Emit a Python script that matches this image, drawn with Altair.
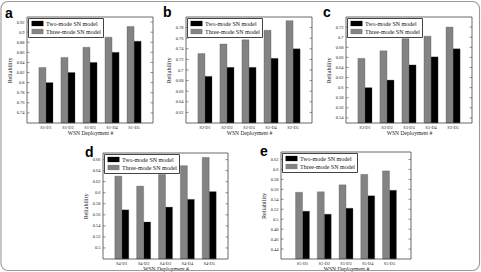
import altair as alt
import pandas as pd

TWO = "Two-mode SN model"
THREE = "Three-mode SN model"

cats_a = ["S1-D1", "S1-D2", "S1-D3", "S1-D4", "S1-D5"]
cats_b = ["S2-D1", "S2-D2", "S2-D3", "S2-D4", "S2-D5"]
cats_c = ["S3-D1", "S3-D2", "S3-D3", "S3-D4", "S3-D5"]
cats_d = ["S4-D1", "S4-D2", "S4-D3", "S4-D4", "S4-D5"]
cats_e = ["S5-D1", "S5-D2", "S5-D3", "S5-D4", "S5-D5"]

two_a = [0.800, 0.820, 0.840, 0.860, 0.882]
three_a = [0.830, 0.850, 0.870, 0.890, 0.911]
two_b = [0.688, 0.705, 0.705, 0.722, 0.740]
three_b = [0.731, 0.749, 0.757, 0.775, 0.793]
two_c = [0.600, 0.615, 0.645, 0.661, 0.677]
three_c = [0.658, 0.673, 0.697, 0.702, 0.720]
two_d = [0.569, 0.547, 0.574, 0.588, 0.602]
three_d = [0.630, 0.612, 0.633, 0.649, 0.664]
two_e = [0.516, 0.510, 0.522, 0.547, 0.558]
three_e = [0.554, 0.555, 0.569, 0.590, 0.597]

ticks_a = [0.74, 0.76, 0.78, 0.80, 0.82, 0.84, 0.86, 0.88, 0.90, 0.92]
ticks_b = [0.62, 0.64, 0.66, 0.68, 0.70, 0.72, 0.74, 0.76, 0.78]
ticks_c = [0.54, 0.56, 0.58, 0.60, 0.62, 0.64, 0.66, 0.68, 0.70, 0.72]
ticks_d = [0.50, 0.52, 0.54, 0.56, 0.58, 0.60, 0.62, 0.64, 0.66]
ticks_e = [0.44, 0.46, 0.48, 0.50, 0.52, 0.54, 0.56, 0.58, 0.60, 0.62]

domain_a = [0.72, 0.93]
domain_b = [0.60, 0.80]
domain_c = [0.53, 0.74]
domain_d = [0.48, 0.672]
domain_e = [0.42, 0.635]

letters = ["a", "b", "c", "d", "e"]

SERIF = "Liberation Serif"
SANS = "Liberation Sans"
W_ALL, H_ALL = 481, 272


def panel(letter, cats, two, three, ticks, domain, box, letter_pos, pad_outer=0.54):
    x0, x1, y0, y1 = box
    df = pd.DataFrame({
        "cat": cats * 2,
        "model": [TWO] * len(cats) + [THREE] * len(cats),
        "value": two + three,
    })
    yscale = alt.Scale(domain=domain, zero=False, nice=False, range=[y1, y0])
    yaxis = alt.Axis(orient="left", offset=-x0, values=ticks, format=".2~g", ticks=False,
                     domain=False, grid=False,
                     labelFont=SERIF, labelFontSize=4.5, labelColor="#222", labelPadding=3,
                     title="Reliability", titleFont=SERIF, titleFontSize=6.2,
                     titleFontWeight="normal", titleColor="#222", titlePadding=4)
    xaxis = alt.Axis(orient="bottom", offset=y1 - H_ALL, labelAngle=0, ticks=False,
                     domain=False, grid=False,
                     labelFont=SERIF, labelFontSize=4.4, labelColor="#222",
                     labelPadding=2, title="WSN Deployment #", titleFont=SERIF,
                     titleFontSize=5.6, titleFontWeight="normal",
                     titleColor="#222", titlePadding=2)
    bars = alt.Chart(df).mark_bar(strokeWidth=0.3, stroke="#444").encode(
        x=alt.X("cat:N", sort=cats,
                scale=alt.Scale(paddingInner=0.36, paddingOuter=pad_outer, range=[x0, x1]),
                axis=xaxis),
        xOffset=alt.XOffset("model:N", sort=[THREE, TWO], scale=alt.Scale(paddingInner=0)),
        y=alt.Y("value:Q", scale=yscale, axis=yaxis),
        y2=alt.Y2(datum=domain[0]),
        color=alt.Color("model:N",
                        scale=alt.Scale(domain=[TWO, THREE], range=["#000000", "#838383"]),
                        legend=alt.Legend(title=None, orient="none",
                                          legendX=x0 + 1, legendY=y0 + 1,
                                          fillColor="white", strokeColor="#444",
                                          padding=2, rowPadding=1,
                                          symbolType="M-1.7,-0.75H1.7V0.75H-1.7Z",
                                          symbolSize=49, symbolStrokeWidth=0,
                                          symbolOffset=4, labelOffset=5,
                                          labelFont=SERIF, labelFontSize=6,
                                          labelColor="#111", labelLimit=200)),
    )
    tdf = pd.DataFrame({"value": ticks})
    left_ticks = alt.Chart(tdf).mark_rule(color="#444", strokeWidth=0.6).encode(
        y=alt.Y("value:Q", scale=yscale, axis=yaxis),
        x=alt.value(x0), x2=alt.value(x0 + 2.5))
    right_ticks = alt.Chart(tdf).mark_rule(color="#444", strokeWidth=0.6).encode(
        y=alt.Y("value:Q", scale=yscale, axis=yaxis),
        x=alt.value(x1 - 2.5), x2=alt.value(x1))
    frame = alt.Chart(pd.DataFrame({"k": [0]})).mark_rect(
        fillOpacity=0, stroke="#444", strokeWidth=0.8).encode(
        x=alt.value(x0), x2=alt.value(x1), y=alt.value(y0), y2=alt.value(y1))
    label = alt.Chart(pd.DataFrame({"t": [letter]})).mark_text(
        font=SANS, fontSize=14, fontWeight="bold", align="left",
        baseline="alphabetic", color="#000").encode(
        text="t:N", x=alt.value(letter_pos[0]), y=alt.value(letter_pos[1]))
    return alt.layer(bars, left_ticks, right_ticks, frame, label)


pa = panel(letters[0], cats_a, two_a, three_a, ticks_a, domain_a, (27, 153, 17, 123), (5, 18))
pb = panel(letters[1], cats_b, two_b, three_b, ticks_b, domain_b, (186, 312, 17, 123), (163, 17))
pc = panel(letters[2], cats_c, two_c, three_c, ticks_c, domain_c, (346, 472, 17, 123), (323, 17))
pd_ = panel(letters[3], cats_d, two_d, three_d, ticks_d, domain_d, (103, 228, 153, 259), (85, 157))
pe = panel(letters[4], cats_e, two_e, three_e, ticks_e, domain_e, (281, 411, 152, 259), (260, 156),
           pad_outer=0.67)

border = alt.Chart(pd.DataFrame({"k": [0]})).mark_rect(
    fillOpacity=0, stroke="#9a9a9a", strokeWidth=1.1, cornerRadius=7).encode(
    x=alt.value(1), x2=alt.value(479.5), y=alt.value(1.5), y2=alt.value(270.5))

chart = alt.layer(pa, pb, pc, pd_, pe, border).resolve_scale(
    x="independent", y="independent", xOffset="independent", color="independent"
).resolve_axis(x="independent", y="independent").resolve_legend(
    color="independent"
).properties(
    width=W_ALL, height=H_ALL, padding=0, background="white",
    autosize=alt.AutoSizeParams(type="none")
).configure_view(strokeOpacity=0)

chart.save("out.html", embed_options={"renderer": "svg", "actions": False})
